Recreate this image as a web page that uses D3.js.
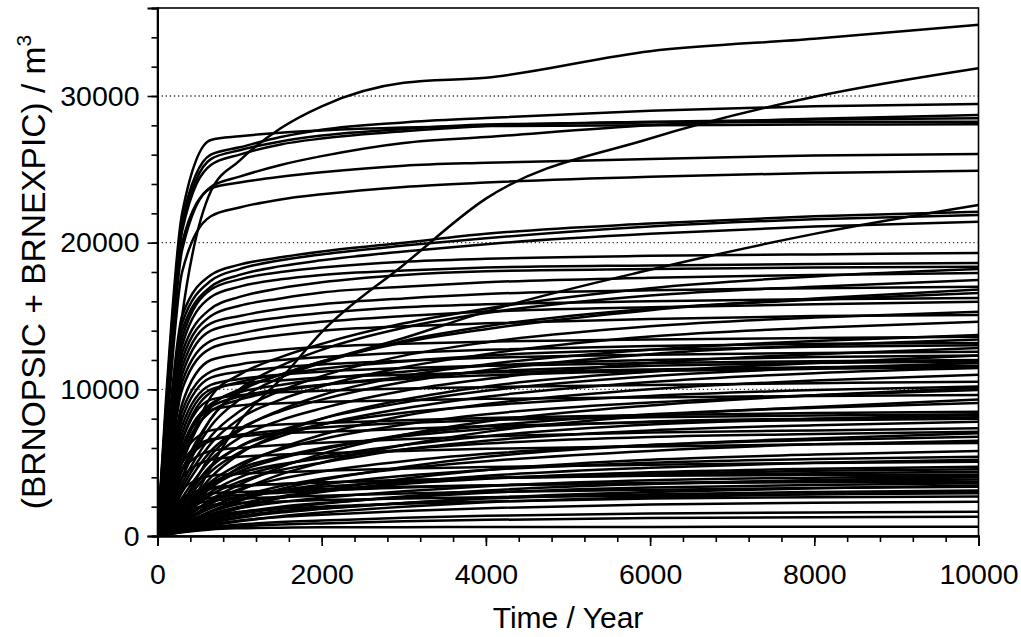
<!DOCTYPE html>
<html><head><meta charset="utf-8">
<script src="https://cdn.jsdelivr.net/npm/d3@7"></script>
<style>
body{margin:0;background:#fff}
svg{display:block}
text{font-family:Arial,"Liberation Sans",sans-serif;fill:#000}
</style>
</head><body><svg id="chart" width="1021" height="637"></svg>
<script>
// ---- data ----
const timeYears = [0, 100, 300, 650, 1000, 1500, 2000, 3000, 4000, 6000, 8000, 10000];

const specialSeries = [
  [0, 5000, 15000, 23500, 25600, 27800, 29300, 30900, 31250, 33050, 33900, 34850],
  [0, 300, 1200, 4700, 7800, 10700, 13900, 18500, 23000, 27100, 29950, 31900],
  [0, 1500, 5000, 8800, 10000, 11000, 11900, 13500, 15300, 18150, 20600, 22570]
];

const fastSeries = [
  [0, 9000, 22000, 27000, 27250, 27500, 27650, 27850, 27950, 28000, 28050, 28070],
  [0, 8500, 21500, 26000, 26500, 27200, 27700, 28200, 28500, 29000, 29300, 29450],
  [0, 8200, 21000, 25700, 26300, 26900, 27300, 27750, 28050, 28200, 28250, 28250],
  [0, 8000, 20800, 25300, 26000, 26700, 27100, 27600, 27950, 28250, 28400, 28480],
  [0, 7500, 20000, 23800, 24500, 25300, 25900, 26800, 27200, 28000, 28450, 28700],
  [0, 7000, 19500, 23700, 24100, 24500, 24800, 25250, 25450, 25700, 25950, 26050],
  [0, 6500, 18000, 21800, 22400, 22950, 23300, 23800, 24100, 24500, 24750, 24900]
];

const plateauSeries = [
  [0, 5500, 15000, 17800, 18500, 19000, 19400, 20000, 20600, 21300, 21800, 22110],
  [0, 5200, 14500, 17400, 18200, 18800, 19200, 19800, 20300, 21100, 21600, 21890],
  [0, 5000, 14000, 17000, 17800, 18400, 18800, 19400, 19900, 20600, 21100, 21430],
  [0, 4800, 13500, 16800, 17500, 18000, 18300, 18700, 18900, 19100, 19200, 19290],
  [0, 4500, 13000, 16300, 17000, 17500, 17800, 18100, 18300, 18450, 18550, 18610],
  [0, 4200, 12500, 15500, 16300, 16900, 17300, 17800, 18050, 18200, 18300, 18360],
  [0, 4000, 12000, 15000, 15700, 16200, 16600, 17000, 17300, 17600, 17800, 17930],
  [0, 3800, 11500, 14500, 15000, 15500, 15800, 16200, 16500, 16750, 16900, 17000],
  [0, 3500, 11000, 14000, 14500, 14900, 15200, 15600, 15800, 16000, 16150, 16230],
  [0, 3300, 10500, 13300, 13800, 14300, 14600, 15000, 15300, 15600, 15800, 15970],
  [0, 3000, 10000, 12800, 13300, 13700, 14000, 14300, 14500, 14800, 15000, 15070],
  [0, 2800, 9000, 12000, 12400, 12700, 12900, 13100, 13250, 13400, 13500, 13590],
  [0, 2600, 8500, 11200, 11700, 12000, 12200, 12500, 12700, 12950, 13100, 13160],
  [0, 2400, 8000, 10800, 11200, 11500, 11700, 11950, 12150, 12350, 12480, 12570],
  [0, 2200, 7500, 10300, 10700, 11000, 11200, 11450, 11600, 11800, 11920, 12000],
  [0, 2000, 7000, 10000, 10400, 10600, 10800, 11000, 11150, 11350, 11500, 11600],
  [0, 2000, 6500, 9800, 10500, 11000, 11400, 11900, 12300, 12700, 12900, 13000],
  [0, 1800, 6000, 9000, 9800, 10300, 10700, 11200, 11600, 12000, 12200, 12300],
  [0, 1600, 5500, 8500, 9300, 9900, 10300, 10800, 11200, 11600, 11800, 11900],
  [0, 1700, 5800, 8800, 9500, 10000, 10300, 10700, 10950, 11250, 11400, 11500],
  [0, 1800, 6500, 9300, 9600, 9800, 9900, 10050, 10150, 10300, 10420, 10520],
  [0, 1600, 6000, 8600, 8900, 9050, 9150, 9250, 9350, 9450, 9550, 9610],
  [0, 1500, 5500, 7200, 7400, 7600, 7700, 7900, 8050, 8250, 8380, 8480],
  [0, 1300, 4500, 6500, 6900, 7200, 7400, 7700, 7900, 8100, 8220, 8300],
  [0, 1400, 5000, 6600, 6800, 7000, 7100, 7300, 7500, 7750, 7900, 8000],
  [0, 1200, 4500, 5800, 6000, 6200, 6350, 6600, 6800, 7050, 7200, 7340],
  [0, 600, 2000, 3600, 4300, 4900, 5300, 5900, 6300, 6750, 6950, 7100],
  [0, 1100, 4000, 5200, 5400, 5550, 5650, 5800, 5950, 6100, 6250, 6340],
  [0, 900, 3200, 4100, 4250, 4350, 4450, 4600, 4700, 4850, 4980, 5070],
  [0, 400, 1300, 2300, 2700, 3100, 3350, 3700, 3950, 4250, 4450, 4550],
  [0, 700, 2600, 3300, 3450, 3550, 3650, 3800, 3950, 4150, 4280, 4380],
  [0, 700, 2400, 3200, 3400, 3550, 3650, 3800, 3950, 4100, 4170, 4200],
  [0, 600, 2200, 2900, 3000, 3100, 3200, 3350, 3450, 3620, 3750, 3850],
  [0, 500, 1800, 2600, 2800, 2950, 3100, 3300, 3450, 3600, 3660, 3700],
  [0, 500, 1800, 2400, 2550, 2650, 2750, 2900, 3000, 3150, 3270, 3360],
  [0, 450, 1500, 2100, 2250, 2350, 2450, 2550, 2650, 2750, 2850, 2910],
  [0, 250, 800, 1400, 1650, 1850, 2000, 2200, 2350, 2550, 2650, 2700],
  [0, 80, 250, 450, 530, 570, 590, 605, 615, 622, 627, 630]
];

const risingSeries = [
  [0, 1500, 4500, 8000, 10000, 11600, 12700, 14200, 15200, 16400, 17000, 17450],
  [0, 1200, 4000, 7500, 9300, 10800, 11800, 13300, 14300, 15500, 16100, 16570],
  [0, 1100, 3600, 6800, 8500, 9900, 10900, 12300, 13200, 14300, 14900, 15290],
  [0, 1000, 3300, 6300, 8000, 9300, 10200, 11500, 12400, 13600, 14200, 14610],
  [0, 900, 3000, 5800, 7300, 8500, 9300, 10500, 11300, 12400, 13000, 13400],
  [0, 800, 2600, 5200, 6700, 7900, 8700, 9900, 10700, 11800, 12400, 12820],
  [0, 700, 2300, 4700, 6100, 7200, 8000, 9100, 9900, 10900, 11450, 11800],
  [0, 650, 2100, 4400, 5700, 6800, 7600, 8700, 9500, 10500, 11100, 11450],
  [0, 700, 2300, 4800, 6100, 7000, 7600, 8400, 8900, 9550, 9950, 10200],
  [0, 550, 1800, 3700, 4900, 5900, 6600, 7600, 8300, 9100, 9600, 9950],
  [0, 500, 1600, 3300, 4400, 5300, 5900, 6900, 7500, 8300, 8750, 9070],
  [0, 450, 1400, 3000, 4000, 4800, 5400, 6200, 6800, 7600, 8000, 8250],
  [0, 500, 1700, 3500, 4600, 5400, 6000, 6800, 7300, 7800, 8000, 8100],
  [0, 420, 1300, 2800, 3700, 4500, 5000, 5900, 6500, 7200, 7550, 7790],
  [0, 380, 1150, 2400, 3200, 3900, 4400, 5100, 5600, 6200, 6550, 6770],
  [0, 330, 1000, 2000, 2700, 3400, 3900, 4600, 5100, 5800, 6250, 6500],
  [0, 300, 900, 1900, 2500, 3100, 3500, 4100, 4500, 5000, 5250, 5410],
  [0, 250, 750, 1500, 2000, 2600, 3000, 3650, 4100, 4650, 5000, 5200],
  [0, 260, 800, 1650, 2200, 2700, 3050, 3550, 3900, 4350, 4580, 4720],
  [0, 220, 700, 1400, 1900, 2300, 2600, 3050, 3400, 3800, 3980, 4100],
  [0, 180, 550, 1100, 1500, 1900, 2200, 2700, 3100, 3550, 3820, 4000],
  [0, 200, 600, 1200, 1600, 2000, 2250, 2650, 2950, 3300, 3480, 3590],
  [0, 150, 450, 900, 1250, 1600, 1850, 2250, 2600, 3000, 3250, 3450],
  [0, 170, 500, 1000, 1350, 1700, 1900, 2250, 2550, 2850, 3000, 3100],
  [0, 140, 400, 800, 1050, 1300, 1450, 1700, 1900, 2150, 2270, 2340],
  [0, 120, 320, 600, 780, 950, 1050, 1250, 1380, 1530, 1610, 1660],
  [0, 100, 280, 500, 650, 780, 860, 1000, 1100, 1220, 1280, 1320]
];

const crossSeries = [
  [0, 300, 1000, 2500, 3500, 4700, 5600, 6900, 7800, 8900, 9600, 10100],
  [0, 250, 900, 2200, 3100, 4200, 5000, 6200, 7100, 8200, 8800, 9300],
  [0, 500, 1600, 4000, 5600, 7000, 8000, 9300, 10200, 11200, 11800, 12300],
  [0, 700, 2200, 5500, 7200, 8600, 9600, 10900, 11700, 12700, 13300, 13700],
  [0, 1200, 4000, 8000, 9800, 11000, 11900, 13200, 14100, 15400, 16200, 16800],
  [0, 1500, 5000, 9500, 11000, 12200, 13100, 14500, 15500, 16900, 17700, 18200],
  [0, 200, 700, 1700, 2400, 3200, 3800, 4700, 5400, 6200, 6650, 7000],
  [0, 150, 500, 1300, 1900, 2600, 3100, 3900, 4500, 5200, 5550, 5800],
  [0, 100, 300, 700, 1000, 1350, 1600, 2000, 2300, 2650, 2850, 3000],
  [0, 400, 1300, 3300, 4700, 6000, 6900, 8200, 9000, 10000, 10600, 11000]
];

const xTickValues = [0, 2000, 4000, 6000, 8000, 10000];
const yTickValues = [0, 10000, 20000, 30000];
const gridValues = [10000, 20000, 30000];
const xTitle = "Time / Year";
const yTitle = "(BRNOPSIC + BRNEXPIC) / m";

// ---- drawing ----
const svg = d3.select("#chart");
const x = d3.scaleLinear().domain([0, 10000]).range([157.5, 978.5]);
const y = d3.scaleLinear().domain([0, 36000]).range([536, 8]);

svg.append("rect").attr("width", 1021).attr("height", 637).attr("fill", "#fff");

svg.append("defs").append("clipPath").attr("id", "plot")
  .append("rect").attr("x", x(0)).attr("y", y(36000)).attr("width", x(10000) - x(0)).attr("height", y(0) - y(36000));

svg.append("g").selectAll("line").data(gridValues).join("line")
  .attr("x1", x(0)).attr("x2", x(10000))
  .attr("y1", d => y(d)).attr("y2", d => y(d))
  .attr("stroke", "#333").attr("stroke-width", 1.3)
  .attr("stroke-dasharray", "1.3,2.8");

const allSeries = [].concat(risingSeries, crossSeries, plateauSeries, fastSeries, specialSeries);
const line = d3.line()
  .x((d, i) => x(timeYears[i]))
  .y(d => y(d))
  .curve(d3.curveMonotoneX);
svg.append("g").attr("clip-path", "url(#plot)")
  .selectAll("path").data(allSeries).join("path")
  .attr("d", line)
  .attr("fill", "none").attr("stroke", "#000").attr("stroke-width", 2.5)
  .attr("stroke-linejoin", "round");

svg.append("rect").attr("x", x(0)).attr("y", y(36000))
  .attr("width", x(10000) - x(0)).attr("height", y(0) - y(36000))
  .attr("fill", "none").attr("stroke", "#000").attr("stroke-width", 1.6);

const xMinor = d3.axisBottom(x).tickValues(d3.range(0, 10001, 400)).tickSize(6).tickFormat("");
const xMajor = d3.axisBottom(x).tickValues(xTickValues).tickSize(10).tickPadding(18).tickFormat(d3.format("d"));
const gxm = svg.append("g").attr("transform", `translate(0,${y(0)})`).call(xMinor);
const gx = svg.append("g").attr("transform", `translate(0,${y(0)})`).call(xMajor);
const yMinor = d3.axisLeft(y).tickValues(d3.range(0, 36001, 2000)).tickSize(6).tickFormat("");
const yMajor = d3.axisLeft(y).tickValues(yTickValues).tickSize(10).tickPadding(8).tickFormat(d3.format("d"));
const gym = svg.append("g").attr("transform", `translate(${x(0)},0)`).call(yMinor);
const gy = svg.append("g").attr("transform", `translate(${x(0)},0)`).call(yMajor);
[gxm, gx, gym, gy].forEach(g => {
  g.select(".domain").attr("stroke", "#000").attr("stroke-width", 1.8);
  g.selectAll(".tick line").attr("stroke", "#000").attr("stroke-width", 1.6);
  g.selectAll("text").attr("font-size", 28.5).attr("font-family", "Arial, 'Liberation Sans', sans-serif").attr("fill", "#000");
});

svg.append("text").attr("x", (x(0) + x(10000)) / 2).attr("y", 628)
  .attr("text-anchor", "middle").attr("font-size", 30).text(xTitle);

const yt = svg.append("text").attr("transform", `translate(45,${y(18000)}) rotate(-90)`)
  .attr("text-anchor", "middle").attr("font-size", 33.5);
yt.append("tspan").text(yTitle);
yt.append("tspan").attr("font-size", 21).attr("dy", -14).text("3");
</script>
</body></html>
